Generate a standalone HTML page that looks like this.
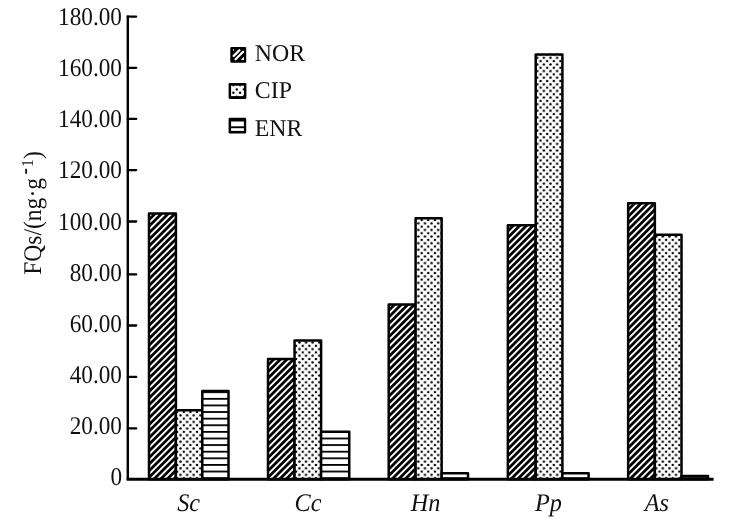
<!DOCTYPE html>
<html><head><meta charset="utf-8"><title>FQs chart</title>
<style>
html,body{margin:0;padding:0;background:#fff;}
svg{display:block;}
text{font-family:"Liberation Serif","Times New Roman",serif;fill:#111;text-rendering:geometricPrecision;}
</style></head><body>
<svg width="734" height="523" viewBox="0 0 734 523">
<defs>
<pattern id="pd" patternUnits="userSpaceOnUse" width="4.674" height="4.674" patternTransform="rotate(45) translate(0.36 0)">
<rect width="4.674" height="4.674" fill="#000"/><rect x="0" y="0" width="1.9" height="4.674" fill="#fff"/>
</pattern>
<pattern id="pdot" patternUnits="userSpaceOnUse" width="6.607" height="6.62" patternTransform="translate(177.2 412)">
<rect width="6.607" height="6.62" fill="#fff"/>
<circle cx="3.3" cy="3.31" r="1.25" fill="#000"/>
<circle cx="0" cy="0" r="1.25" fill="#000"/><circle cx="6.607" cy="0" r="1.25" fill="#000"/>
<circle cx="0" cy="6.62" r="1.25" fill="#000"/><circle cx="6.607" cy="6.62" r="1.25" fill="#000"/>
</pattern>
<pattern id="ph" patternUnits="userSpaceOnUse" width="6.61" height="6.61" patternTransform="translate(0 397.9)">
<rect width="6.61" height="6.61" fill="#fff"/><rect x="0" y="0" width="6.61" height="1.8" fill="#000"/>
</pattern>
</defs>
<rect width="734" height="523" fill="#fff"/>

<g stroke="#000" stroke-width="2.5" stroke-linejoin="round">
<rect x="149" y="213.5" width="26.90" height="265.70" fill="url(#pd)"/>
<rect x="175.9" y="410.2" width="26.40" height="69.00" fill="url(#pdot)"/>
<rect x="202.3" y="390.9" width="26.20" height="88.30" fill="url(#ph)"/>
<rect x="268" y="359" width="26.55" height="120.20" fill="url(#pd)"/>
<rect x="294.55" y="340.6" width="26.55" height="138.60" fill="url(#pdot)"/>
<rect x="321.1" y="431.8" width="28.15" height="47.40" fill="url(#ph)"/>
<rect x="388.7" y="304.5" width="26.90" height="174.70" fill="url(#pd)"/>
<rect x="415.6" y="218.3" width="26.05" height="260.90" fill="url(#pdot)"/>
<rect x="441.65" y="473.2" width="26.35" height="6.00" fill="url(#ph)"/>
<rect x="507.85" y="225.2" width="27.85" height="254.00" fill="url(#pd)"/>
<rect x="535.7" y="54.5" width="26.70" height="424.70" fill="url(#pdot)"/>
<rect x="562.4" y="473.2" width="26.20" height="6.00" fill="url(#ph)"/>
<rect x="628.15" y="203.2" width="26.70" height="276.00" fill="url(#pd)"/>
<rect x="654.85" y="234.8" width="26.65" height="244.40" fill="url(#pdot)"/>
<rect x="681.5" y="476.0" width="26.50" height="3.20" fill="url(#ph)"/>
</g>
<g stroke="#000" fill="none">
<path d="M127.8 15.4 V479.2" stroke-width="2.4"/>
<path d="M126.6 479.2 H713.6" stroke-width="2.9"/>
<path d="M127.8 428.40 H136.2" stroke-width="2.3" stroke-linecap="round"/>
<path d="M127.8 376.95 H136.2" stroke-width="2.3" stroke-linecap="round"/>
<path d="M127.8 325.50 H136.2" stroke-width="2.3" stroke-linecap="round"/>
<path d="M127.8 274.40 H136.2" stroke-width="2.3" stroke-linecap="round"/>
<path d="M127.8 221.50 H136.2" stroke-width="2.3" stroke-linecap="round"/>
<path d="M127.8 170.10 H136.2" stroke-width="2.3" stroke-linecap="round"/>
<path d="M127.8 118.90 H136.2" stroke-width="2.3" stroke-linecap="round"/>
<path d="M127.8 67.80 H136.2" stroke-width="2.3" stroke-linecap="round"/>
<path d="M127.8 16.60 H136.2" stroke-width="2.3" stroke-linecap="round"/>
</g>
<g font-size="23.6" text-anchor="end">
<text transform="translate(122.0 485.38) scale(0.985 1.08)">0</text>
<text transform="translate(122.0 434.21) scale(0.985 1.08)">20.00</text>
<text transform="translate(122.0 383.04) scale(0.985 1.08)">40.00</text>
<text transform="translate(122.0 331.87) scale(0.985 1.08)">60.00</text>
<text transform="translate(122.0 280.70) scale(0.985 1.08)">80.00</text>
<text transform="translate(122.0 229.53) scale(0.985 1.08)">100.00</text>
<text transform="translate(122.0 178.36) scale(0.985 1.08)">120.00</text>
<text transform="translate(122.0 127.19) scale(0.985 1.08)">140.00</text>
<text transform="translate(122.0 76.02) scale(0.985 1.08)">160.00</text>
<text transform="translate(122.0 24.85) scale(0.985 1.08)">180.00</text>
</g>
<g font-size="25" font-style="italic">
<text transform="translate(177.20 511.4) scale(0.97 1.01)">Sc</text>
<text transform="translate(294.55 511.4) scale(0.97 1.01)">Cc</text>
<text transform="translate(410.80 511.4) scale(0.97 1.01)">Hn</text>
<text transform="translate(534.90 511.4) scale(0.97 1.01)">Pp</text>
<text transform="translate(644.80 511.4) scale(0.97 1.01)">As</text>
</g>
<g transform="translate(41.0 274.8) rotate(-90)">
<text font-size="23.6" transform="scale(0.998 1.08)">FQs/(ng·g</text>
<text font-size="14.7" transform="translate(100.4 -8.7) scale(1.3 1.7)">-</text>
<text font-size="15.5" transform="translate(107.8 -8.3) scale(0.99 1.08)">1</text>
<text font-size="23.6" transform="translate(115.7 0) scale(0.99 1.08)">)</text>
</g>
<g>
<rect x="230.3" y="46.9" width="15.9" height="15.9" rx="1.2" fill="#000"/>
<g stroke="#fff" stroke-width="2.25" stroke-linecap="round"><path d="M233.7 55.9 L239.4 50.2"/><path d="M235.6 59.3 L243.1 51.8"/></g>
<circle cx="233.5" cy="50" r="0.7" fill="#fff"/><path d="M240.8 60 L244 56.8 V60 Z" fill="#fff"/>
<rect x="228.6" y="82.9" width="17.8" height="16" rx="1.4" fill="#000"/>
<rect x="231.1" y="85.7" width="12.8" height="10.4" fill="#fff"/>
<circle cx="236.8" cy="89.4" r="1.2" fill="#000"/>
<circle cx="233.4" cy="92.7" r="1.2" fill="#000"/>
<circle cx="240.1" cy="92.7" r="1.2" fill="#000"/>
<circle cx="243.7" cy="89.4" r="1.1" fill="#000"/>
<circle cx="233.4" cy="85.6" r="0.9" fill="#000"/>
<circle cx="240.1" cy="85.6" r="0.9" fill="#000"/>
<circle cx="236.8" cy="96.3" r="0.9" fill="#000"/>
<circle cx="243.8" cy="96.2" r="1.0" fill="#000"/>
<rect x="228.6" y="117.7" width="17.6" height="15.85" rx="1.4" fill="#000"/>
<rect x="231.1" y="121.5" width="12.8" height="4.8" fill="#fff"/>
<rect x="231.1" y="128.2" width="12.8" height="2.7" fill="#fff"/>
</g>
<g font-size="23.6">
<text transform="translate(254.8 60.6) scale(1.01 1.02)">NOR</text>
<text transform="translate(254.8 98.1) scale(1.01 1.02)">CIP</text>
<text transform="translate(254.8 135.6) scale(1.01 1.02)">ENR</text>
</g>
</svg></body></html>
